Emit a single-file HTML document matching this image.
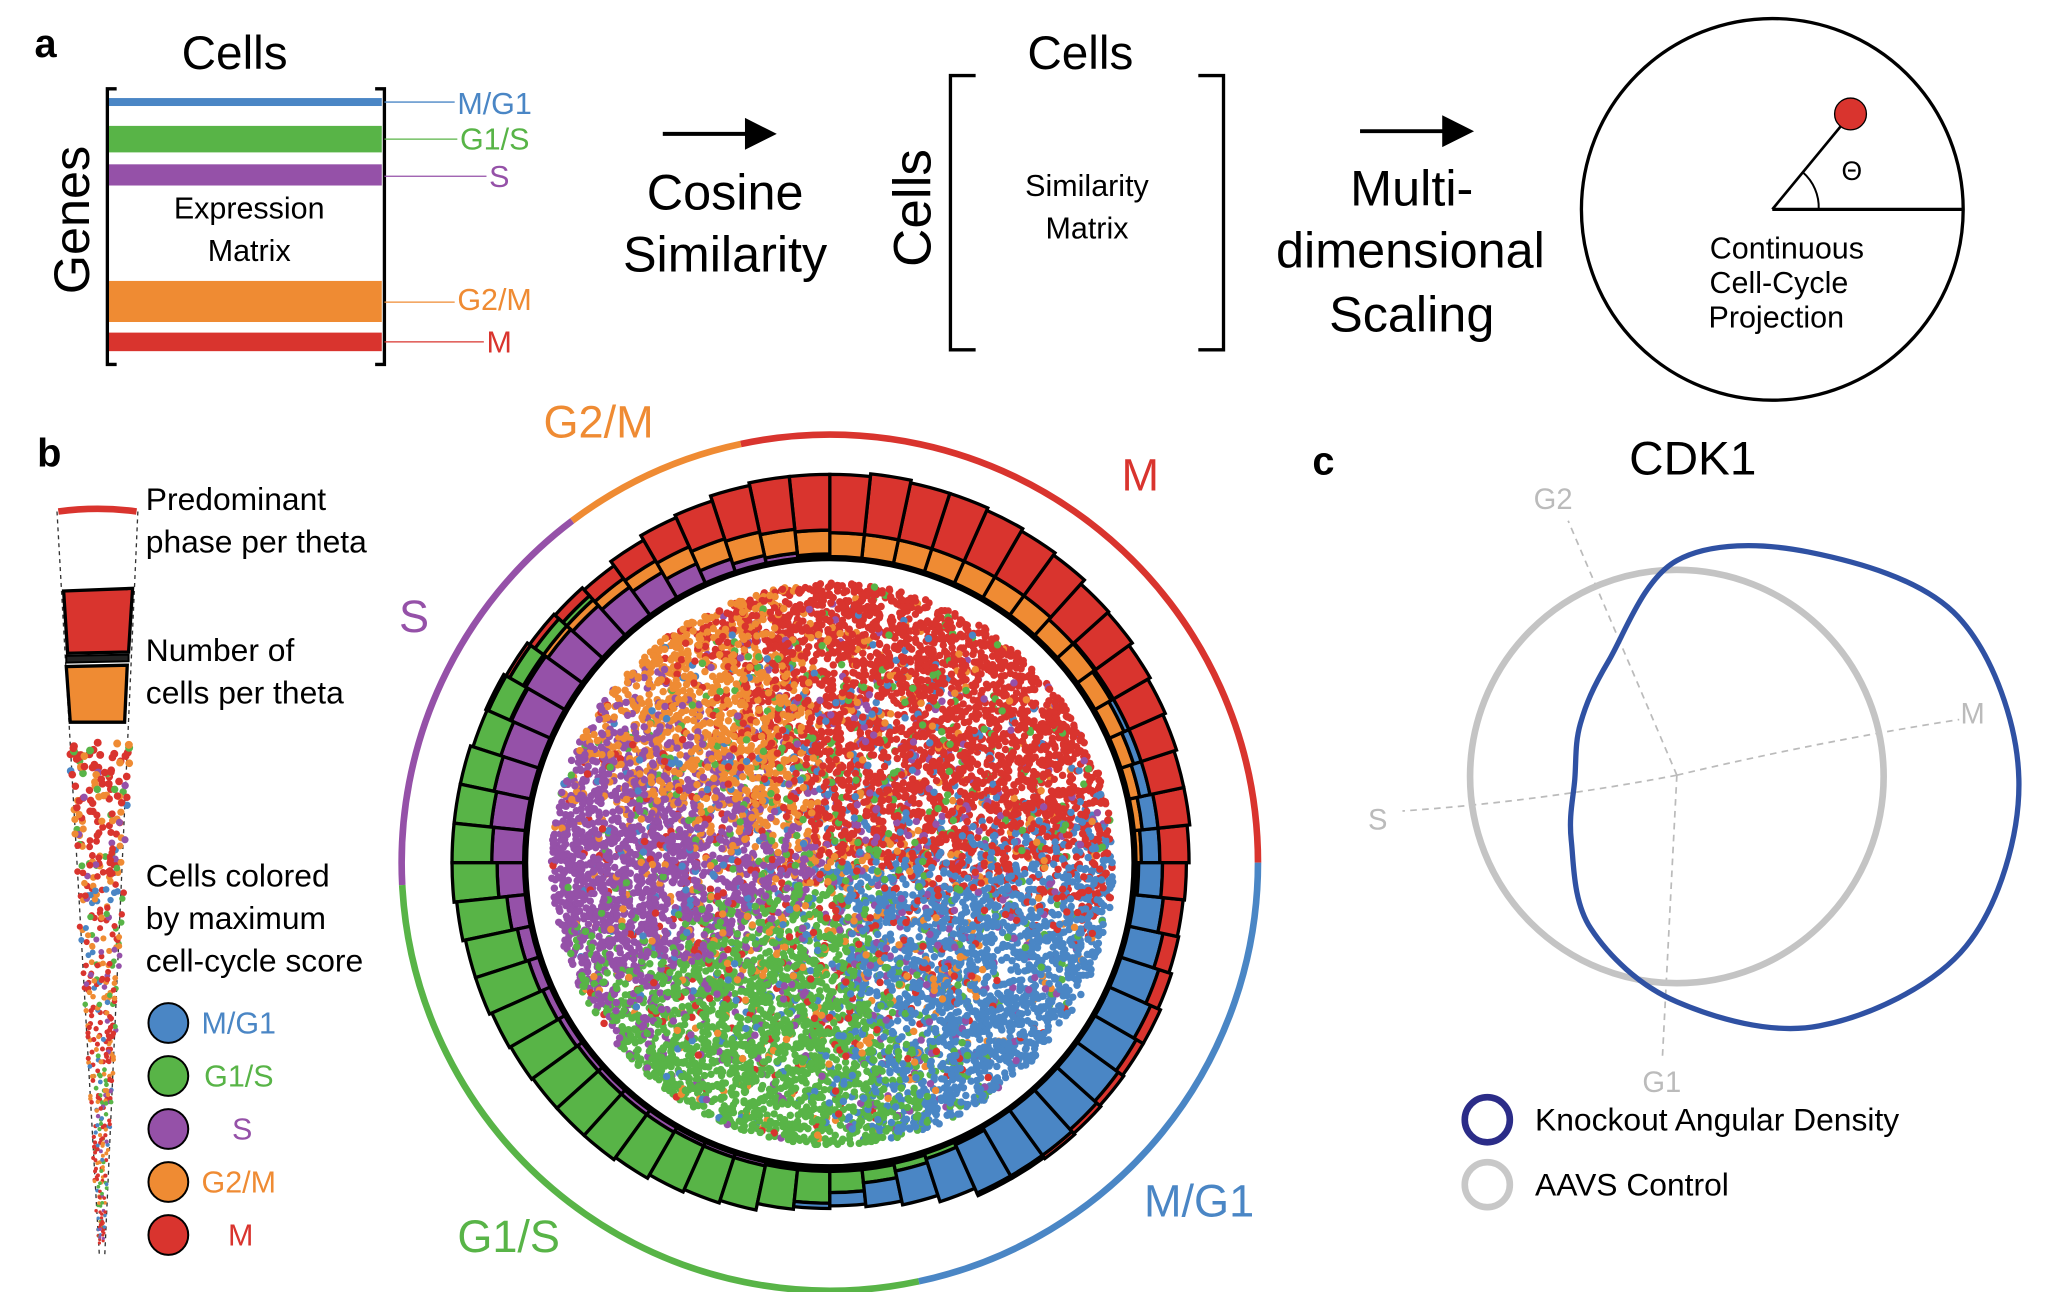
<!DOCTYPE html>
<html><head><meta charset="utf-8"><style>
html,body{margin:0;padding:0;background:#fff;}
svg{display:block;font-family:"Liberation Sans",Arial,sans-serif;}
</style></head><body>
<svg id="fig" width="2052" height="1292" viewBox="0 0 1548 975" preserveAspectRatio="none" xmlns="http://www.w3.org/2000/svg">
<!-- Panel a -->
<g>
<text x="26" y="43" font-size="30" font-weight="bold">a</text>
<text x="177" y="52" font-size="36" text-anchor="middle">Cells</text>
<text transform="translate(67,166) rotate(-90)" font-size="38" text-anchor="middle">Genes</text>
<g>
<rect x="82" y="74" width="206" height="6" fill="#4a86c5"/>
<rect x="82" y="95" width="206" height="20" fill="#58b447"/>
<rect x="82" y="124" width="206" height="16" fill="#9551a8"/>
<rect x="82" y="212" width="206" height="31" fill="#ef8b33"/>
<rect x="82" y="251" width="206" height="14" fill="#d9342e"/>
<path d="M88,67 H81 V275 H88 M283,67 H290 V275 H283" fill="none" stroke="#000" stroke-width="2.5"/>
<text x="188" y="165" font-size="23" text-anchor="middle">Expression</text>
<text x="188" y="197" font-size="23" text-anchor="middle">Matrix</text>
</g>
<g font-size="23">
<line x1="290" y1="77" x2="343" y2="77" stroke="#4a86c5" stroke-width="1"/>
<text x="345" y="86" fill="#4a86c5">M/G1</text>
<line x1="290" y1="105" x2="345" y2="105" stroke="#58b447" stroke-width="1"/>
<text x="347" y="113" fill="#58b447">G1/S</text>
<line x1="290" y1="133" x2="367" y2="133" stroke="#9551a8" stroke-width="1"/>
<text x="369" y="141" fill="#9551a8">S</text>
<line x1="290" y1="228" x2="343" y2="228" stroke="#ef8b33" stroke-width="1"/>
<text x="345" y="234" fill="#ef8b33">G2/M</text>
<line x1="290" y1="258" x2="365" y2="258" stroke="#d9342e" stroke-width="1"/>
<text x="367" y="266" fill="#d9342e">M</text>
</g>
<g>
<line x1="500" y1="101" x2="568" y2="101" stroke="#000" stroke-width="3"/>
<polygon points="562,89 586,101 562,113" fill="#000"/>
</g>
<text x="547" y="158" font-size="38" text-anchor="middle">Cosine</text>
<text x="547" y="205" font-size="38" text-anchor="middle">Similarity</text>
<text x="815" y="52" font-size="36" text-anchor="middle">Cells</text>
<text transform="translate(702,157) rotate(-90)" font-size="40" text-anchor="middle">Cells</text>
<g>
<path d="M736,57 H717 V264 H736 M904,57 H923 V264 H904" fill="none" stroke="#000" stroke-width="2.5"/>
<text x="820" y="148" font-size="23" text-anchor="middle">Similarity</text>
<text x="820" y="180" font-size="23" text-anchor="middle">Matrix</text>
</g>
<g>
<line x1="1026" y1="99" x2="1094" y2="99" stroke="#000" stroke-width="3"/>
<polygon points="1088,87 1112,99 1088,111" fill="#000"/>
</g>
<text x="1065" y="155" font-size="38" text-anchor="middle">Multi-</text>
<text x="1064" y="202" font-size="38" text-anchor="middle">dimensional</text>
<text x="1065" y="250" font-size="38" text-anchor="middle">Scaling</text>
<g>
<circle cx="1337" cy="158" r="144" fill="none" stroke="#000" stroke-width="2.5"/>
<line x1="1337" y1="158" x2="1481" y2="158" stroke="#000" stroke-width="2.5"/>
<line x1="1337" y1="158" x2="1393" y2="90" stroke="#000" stroke-width="2"/>
<circle cx="1396" cy="86" r="12" fill="#d9342e" stroke="#000" stroke-width="1"/>
<path d="M1372,158 A35,35 0 0 0 1360,130" fill="none" stroke="#000" stroke-width="1.5"/>
<text x="1397" y="136" font-size="20" text-anchor="middle">Θ</text>
<text x="1348" y="195" font-size="23" text-anchor="middle">Continuous</text>
<text x="1342" y="221" font-size="23" text-anchor="middle">Cell-Cycle</text>
<text x="1340" y="247" font-size="23" text-anchor="middle">Projection</text>
</g>
</g>
<!-- Panel b -->
<g>
<text x="28" y="352" font-size="30" font-weight="bold">b</text>
<g id="wedge">
<line x1="43" y1="386" x2="75" y2="948" stroke="#333" stroke-width="1" stroke-dasharray="3,3"/>
<line x1="104" y1="386" x2="79" y2="948" stroke="#333" stroke-width="1" stroke-dasharray="3,3"/>
<path d="M44,386 Q74,382 103,386" fill="none" stroke="#d9342e" stroke-width="5"/>
<path d="M48,446 L100,444 L97,492 L51,493 Z" fill="#d9342e" stroke="#000" stroke-width="2.5"/>
<path d="M50,495 L97,494 L97,499 L50,500 Z" fill="#222" stroke="#000" stroke-width="1.5"/>
<path d="M50,503 L96,502 L94,545 L53,545 Z" fill="#ef8b33" stroke="#000" stroke-width="2.5"/>
</g>
<g font-size="24">
<text x="110" y="385">Predominant</text>
<text x="110" y="417">phase per theta</text>
<text x="110" y="499">Number of</text>
<text x="110" y="531">cells per theta</text>
<text x="110" y="669">Cells colored</text>
<text x="110" y="701">by maximum</text>
<text x="110" y="733">cell-cycle score</text>
</g>
<g font-size="23">
<circle cx="127" cy="772" r="15" fill="#4a86c5" stroke="#000" stroke-width="1.5"/>
<text x="152" y="780" fill="#4a86c5">M/G1</text>
<circle cx="127" cy="812" r="15" fill="#58b447" stroke="#000" stroke-width="1.5"/>
<text x="154" y="820" fill="#58b447">G1/S</text>
<circle cx="127" cy="852" r="15" fill="#9551a8" stroke="#000" stroke-width="1.5"/>
<text x="175" y="860" fill="#9551a8">S</text>
<circle cx="127" cy="892" r="15" fill="#ef8b33" stroke="#000" stroke-width="1.5"/>
<text x="152" y="900" fill="#ef8b33">G2/M</text>
<circle cx="127" cy="932" r="15" fill="#d9342e" stroke="#000" stroke-width="1.5"/>
<text x="172" y="940" fill="#d9342e">M</text>
</g>
<g id="dots"></g>
<g id="bars"></g>
<g id="ring"></g>
<g font-size="34">
<text x="410" y="330" fill="#ef8b33">G2/M</text>
<text x="846" y="370" fill="#d9342e">M</text>
<text x="301" y="477" fill="#9551a8">S</text>
<text x="863" y="918" fill="#4a86c5">M/G1</text>
<text x="345" y="945" fill="#58b447">G1/S</text>
</g>
</g>
<!-- Panel c -->
<g>
<text x="990" y="358" font-size="30" font-weight="bold">c</text>
<text x="1277" y="358" font-size="36" text-anchor="middle">CDK1</text>
<g stroke="#bbb" stroke-width="1.3" stroke-dasharray="5,4" fill="none">
<path d="M1265,585 L1183,393"/>
<path d="M1265,585 Q1370,560 1478,543"/>
<path d="M1265,585 Q1160,605 1058,612"/>
<path d="M1265,585 L1254,800"/>
</g>
<g fill="#bbb" font-size="22">
<text x="1157" y="384">G2</text>
<text x="1479" y="546">M</text>
<text x="1032" y="626">S</text>
<text x="1239" y="824">G1</text>
</g>
<ellipse cx="1265" cy="586" rx="156" ry="156" fill="none" stroke="#c4c4c4" stroke-width="5"/>
<path id="ko" fill="none" stroke="#2f51a3" stroke-width="4"/>
<g font-size="24">
<circle cx="1122" cy="845" r="17" fill="none" stroke="#2b2c88" stroke-width="5"/>
<text x="1158" y="853">Knockout Angular Density</text>
<circle cx="1122" cy="894" r="17" fill="none" stroke="#c8c8c8" stroke-width="5"/>
<text x="1158" y="902">AAVS Control</text>
</g>
</g>
</svg>
<script>
// Histogram counts per theta bin (60 bins of 6°, math angle CCW from +x)
const binCount = 60;
const countS   = [0,0,0,0,0,0,0,0,0,0, 0,0,0,0,0,2,4,6,10,16, 22,26,30,32,34,32,30,28,26,24, 20,14,10,8,6,5,4,4,4,4, 3,3,3,2,2,2,2,1,0,0, 0,0,0,0,0,0,0,0,0,0];
const countG2M = [4,6,8,10,12,14,16,16,18,18, 18,18,18,18,18,18,18,18,16,14, 10,8,6,4,2,1,0,0,0,0, 0,0,0,0,0,0,0,0,0,0, 0,0,0,0,0,0,0,0,0,0, 0,0,0,0,0,0,0,0,0,2];
const countG1S = [0,0,0,0,0,0,0,0,0,0, 0,0,0,0,0,0,0,0,0,0, 0,0,4,8,12,18,22,26,28,30, 34,38,40,42,42,42,42,42,42,40, 38,36,34,30,24,16,10,6,4,2, 0,0,0,0,0,0,0,0,0,0];
const countMG1 = [14,12,8,6,4,2,1,0,0,0, 0,0,0,0,0,0,0,0,0,0, 0,0,0,0,0,0,0,0,0,0, 0,0,0,0,0,0,0,0,0,0, 0,0,0,0,4,10,18,26,34,40, 42,42,40,38,36,34,30,26,22,18];
const countM   = [22,24,26,28,30,32,34,36,38,40, 42,44,44,46,44,42,40,36,30,24, 18,12,8,5,3,2,0,0,0,0, 0,0,0,0,0,0,0,0,0,0, 0,0,0,0,0,0,0,0,0,2, 2,3,4,5,6,8,10,12,15,18];
// Phase ring boundaries (degrees)
const phaseNames = ["M","G2/M","S","G1/S","M/G1"];
const phaseStart = [0,102,127,183,282];
const phaseEnd   = [102,127,183,282,360];
// Knockout density radii (polar, angle deg)
const koAngles = [0,30,60,90,120,150,180,210,240,270,300,330];
const koRadius = [258,245,198,165,103,84,77,92,130,168,215,252];

const NS="http://www.w3.org/2000/svg";
const CX=626, CY=651;
const COL={"S":"#9551a8","G2/M":"#ef8b33","G1/S":"#58b447","M/G1":"#4a86c5","M":"#d9342e"};
const rScale = v => v*1.0;
const aScale = i => i*360/binCount;
function P(r,a){const t=a*Math.PI/180;return [CX+r*Math.cos(t), CY-r*Math.sin(t)];}
function sector(r0,r1,a0,a1){
  const p1=P(r0,a0),p2=P(r1,a0),p3=P(r1,a1),p4=P(r0,a1);
  return `M${p1} L${p2} A${r1},${r1} 0 0 0 ${p3} L${p4} A${r0},${r0} 0 0 1 ${p1} Z`;
}
// scatter texture (seeded mulberry32)
let seed=12345;
function rnd(){seed|=0;seed=seed+0x6D2B79F5|0;let t=Math.imul(seed^seed>>>15,1|seed);t=t+Math.imul(t^t>>>7,61|t)^t;return((t^t>>>14)>>>0)/4294967296;}
const dots=document.getElementById('dots');
const dotPhase=a=>{a=((a%360)+360)%360;if(a<112)return"M";if(a<150)return"G2/M";if(a<212)return"S";if(a<288)return"G1/S";return"M/G1";};
let html="";
for(let k=0;k<11000;k++){
  const rr=212*Math.sqrt(rnd()), th=rnd()*360;
  const rho=rr/212; let ph=dotPhase(th+ (rnd()-0.5)*40);
  if(rnd()<0.5*(1-rho)+0.08) ph=phaseNames[Math.floor(rnd()*5)];
  const [x,y]=[CX+2+rr*Math.cos(th*Math.PI/180), CY+1-rr*Math.sin(th*Math.PI/180)];
  html+=`<circle cx="${x.toFixed(1)}" cy="${y.toFixed(1)}" r="2.8" fill="${COL[ph]}"/>`;
}
for(let k=0;k<500;k++){
  const t=rnd(); const y=560+t*380; const half=(1-t)*22+2;
  const x=76+(rnd()-0.5)*2*half;
  const ph = rnd()<0.7-0.4*t ? (rnd()<0.7?"M":"G2/M") : phaseNames[Math.floor(rnd()*5)];
  html+=`<circle cx="${x.toFixed(1)}" cy="${y.toFixed(1)}" r="${(3-1.8*t).toFixed(1)}" fill="${COL[ph]}"/>`;
}
dots.innerHTML=html;
const bars=document.getElementById('bars');
const base=document.createElementNS(NS,'circle');
base.setAttribute('cx',CX);base.setAttribute('cy',CY);base.setAttribute('r',229);
base.setAttribute('fill','none');base.setAttribute('stroke','#000');base.setAttribute('stroke-width','3');


bars.appendChild(base);
const stack=[["S",countS],["G2/M",countG2M],["G1/S",countG1S],["M/G1",countMG1],["M",countM]];
for(let i=0;i<binCount;i++){
  let r=231; const a0=aScale(i), a1=aScale(i+1);
  for(const [name,arr] of stack){
    const v=arr[i]; if(v<=0) continue;
    const r1=r+rScale(v);
    const p=document.createElementNS(NS,'path');
    p.setAttribute('d',sector(r,r1,a0,a1));
    p.setAttribute('fill',COL[name]);p.setAttribute('stroke','#000');p.setAttribute('stroke-width','2.5');
    
    
    bars.appendChild(p); r=r1;
  }
}
const ring=document.getElementById('ring');
for(let k=0;k<phaseNames.length;k++){
  const R=323, s=P(R,phaseStart[k]), e=P(R,phaseEnd[k]);
  const large=(phaseEnd[k]-phaseStart[k])>180?1:0;
  const p=document.createElementNS(NS,'path');
  p.setAttribute('d',`M${s} A${R},${R} 0 ${large} 0 ${e}`);
  p.setAttribute('fill','none');p.setAttribute('stroke',COL[phaseNames[k]]);p.setAttribute('stroke-width','5');
  
  
  ring.appendChild(p);
}
const pts2=koAngles.map((a,i)=>{const t=a*Math.PI/180;const r=koRadius[i];return [1265+r*Math.cos(t), 588-r*Math.sin(t)];});
function cr(p){let d=`M${p[0]}`;const n=p.length;for(let i=0;i<n;i++){const p0=p[(i-1+n)%n],p1=p[i],p2=p[(i+1)%n],p3=p[(i+2)%n];
  const c1=[p1[0]+(p2[0]-p0[0])/6,p1[1]+(p2[1]-p0[1])/6],c2=[p2[0]-(p3[0]-p1[0])/6,p2[1]-(p3[1]-p1[1])/6];
  d+=` C${c1} ${c2} ${p2}`;}return d+"Z";}
document.getElementById('ko').setAttribute('d',cr(pts2));
</script>
</body></html>
